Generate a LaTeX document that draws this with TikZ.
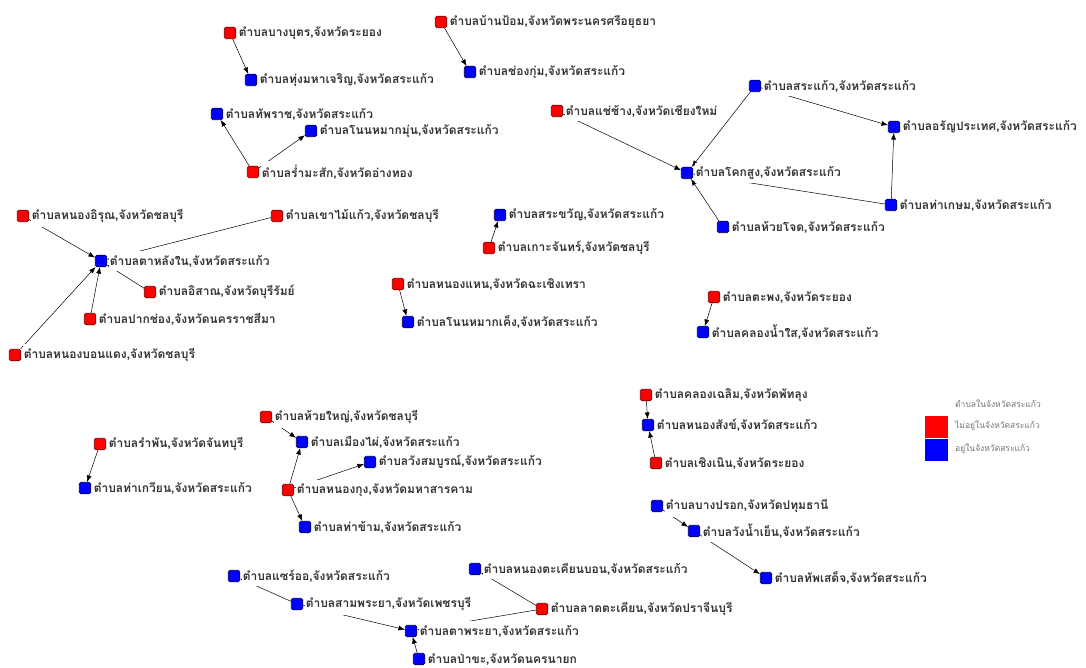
\documentclass[tikz,border=0pt]{standalone}
\usepackage{fontspec}
\newfontfamily\thaifont[Script=Thai]{Loma}
\usetikzlibrary{arrows.meta}
\tikzset{
  sq/.style={rounded corners=1.5pt, minimum size=11.5pt, inner sep=0pt, line width=0.6pt},
  rn/.style={sq, fill=red, draw=red!45!black},
  bn/.style={sq, fill=blue, draw=blue!35!black},
  lab/.style={anchor=west, font=\thaifont\bfseries\fontsize{12}{14}\selectfont, fill=white, inner xsep=1pt, inner ysep=4pt, text=black!80},
  legtxt/.style={anchor=west, font=\thaifont\fontsize{8.5}{10}\selectfont, text=black!55, inner sep=0pt},
  edge/.style={-{Latex[length=6.5pt,width=5pt]}, line width=0.5pt, black}
}
\newcommand\plab[2]{\node[lab] (#1-l) at ([xshift=1.5pt]#1.east) {#2};}
\begin{document}
\begin{tikzpicture}[x=1pt,y=-1pt]
\useasboundingbox (0,0) rectangle (1086,668);
\fill[white] (0,0) rectangle (1086,668);
% nodes
\node[rn] (n1) at (230,33) {};
\node[bn] (n2) at (251,80) {};
\node[rn] (n3) at (441,22) {};
\node[bn] (n4) at (470,72) {};
\node[bn] (n5) at (217,114) {};
\node[bn] (n6) at (311,131) {};
\node[rn] (n7) at (253,172) {};
\node[rn] (n8) at (557,111) {};
\node[bn] (n9) at (755,86) {};
\node[bn] (n10) at (894,127) {};
\node[bn] (n11) at (687,173) {};
\node[bn] (n12) at (891,205) {};
\node[bn] (n13) at (723,227) {};
\node[rn] (n14) at (23,216) {};
\node[rn] (n15) at (277,216) {};
\node[bn] (n16) at (101,261) {};
\node[rn] (n17) at (150,292) {};
\node[rn] (n18) at (90,319) {};
\node[rn] (n19) at (15,355) {};
\node[bn] (n20) at (500,215) {};
\node[rn] (n21) at (489,248) {};
\node[rn] (n22) at (398,284) {};
\node[bn] (n23) at (408,322) {};
\node[rn] (n24) at (714,297) {};
\node[bn] (n25) at (703,332) {};
\node[rn] (n26) at (266,417) {};
\node[bn] (n27) at (302,442) {};
\node[bn] (n28) at (370,462) {};
\node[rn] (n29) at (288,490) {};
\node[bn] (n30) at (305,527) {};
\node[rn] (n31) at (100,444) {};
\node[bn] (n32) at (85,488) {};
\node[rn] (n33) at (646,395) {};
\node[bn] (n34) at (648,425) {};
\node[rn] (n35) at (656,463) {};
\node[bn] (n36) at (657,506) {};
\node[bn] (n37) at (694,531) {};
\node[bn] (n38) at (766,578) {};
\node[bn] (n39) at (234,576) {};
\node[bn] (n40) at (297,604) {};
\node[bn] (n41) at (475,569) {};
\node[rn] (n42) at (542,609) {};
\node[bn] (n43) at (411,631) {};
\node[bn] (n44) at (419,659) {};
% edges
\draw[edge] (n1) -- (n2);
\draw[edge] (n3) -- (n4);
\draw[edge] (n7) -- (n5);
\draw[edge] (n7) -- (n6);
\draw[edge] (n8) -- (n11);
\draw[edge] (n9) -- (n11);
\draw[edge] (n9) -- (n10);
\draw[edge] (n12) -- (n10);
\draw[edge] (n12) -- (n11);
\draw[edge] (n13) -- (n11);
\draw[edge] (n14) -- (n16);
\draw[edge] (n15) -- (n16);
\draw[edge] (n17) -- (n16);
\draw[edge] (n18) -- (n16);
\draw[edge] (n19) -- (n16);
\draw[edge] (n21) -- (n20);
\draw[edge] (n22) -- (n23);
\draw[edge] (n24) -- (n25);
\draw[edge] (n26) -- (n27);
\draw[edge] (n29) -- (n27);
\draw[edge] (n29) -- (n28);
\draw[edge] (n29) -- (n30);
\draw[edge] (n31) -- (n32);
\draw[edge] (n33) -- (n34);
\draw[edge] (n35) -- (n34);
\draw[edge] (n36) -- (n37);
\draw[edge] (n37) -- (n38);
\draw[edge] (n40) -- (n39);
\draw[edge] (n40) -- (n43);
\draw[edge] (n42) -- (n41);
\draw[edge] (n42) -- (n43);
\draw[edge] (n44) -- (n43);
% labels
\plab{n1}{ตำบลบางบุตร,จังหวัดระยอง}
\plab{n2}{ตำบลทุ่งมหาเจริญ,จังหวัดสระแก้ว}
\plab{n3}{ตำบลบ้านป้อม,จังหวัดพระนครศรีอยุธยา}
\plab{n4}{ตำบลช่องกุ่ม,จังหวัดสระแก้ว}
\plab{n5}{ตำบลทัพราช,จังหวัดสระแก้ว}
\plab{n6}{ตำบลโนนหมากมุ่น,จังหวัดสระแก้ว}
\plab{n7}{ตำบลร่ำมะสัก,จังหวัดอ่างทอง}
\plab{n8}{ตำบลแช่ช้าง,จังหวัดเชียงใหม่}
\plab{n9}{ตำบลสระแก้ว,จังหวัดสระแก้ว}
\plab{n10}{ตำบลอรัญประเทศ,จังหวัดสระแก้ว}
\plab{n11}{ตำบลโคกสูง,จังหวัดสระแก้ว}
\plab{n12}{ตำบลท่าเกษม,จังหวัดสระแก้ว}
\plab{n13}{ตำบลห้วยโจด,จังหวัดสระแก้ว}
\plab{n14}{ตำบลหนองอิรุณ,จังหวัดชลบุรี}
\plab{n15}{ตำบลเขาไม้แก้ว,จังหวัดชลบุรี}
\plab{n16}{ตำบลตาหลังใน,จังหวัดสระแก้ว}
\plab{n17}{ตำบลอิสาณ,จังหวัดบุรีรัมย์}
\plab{n18}{ตำบลปากช่อง,จังหวัดนครราชสีมา}
\plab{n19}{ตำบลหนองบอนแดง,จังหวัดชลบุรี}
\plab{n20}{ตำบลสระขวัญ,จังหวัดสระแก้ว}
\plab{n21}{ตำบลเกาะจันทร์,จังหวัดชลบุรี}
\plab{n22}{ตำบลหนองแหน,จังหวัดฉะเชิงเทรา}
\plab{n23}{ตำบลโนนหมากเค็ง,จังหวัดสระแก้ว}
\plab{n24}{ตำบลตะพง,จังหวัดระยอง}
\plab{n25}{ตำบลคลองน้ำใส,จังหวัดสระแก้ว}
\plab{n26}{ตำบลห้วยใหญ่,จังหวัดชลบุรี}
\plab{n27}{ตำบลเมืองไผ่,จังหวัดสระแก้ว}
\plab{n28}{ตำบลวังสมบูรณ์,จังหวัดสระแก้ว}
\plab{n29}{ตำบลหนองกุง,จังหวัดมหาสารคาม}
\plab{n30}{ตำบลท่าข้าม,จังหวัดสระแก้ว}
\plab{n31}{ตำบลรำพัน,จังหวัดจันทบุรี}
\plab{n32}{ตำบลท่าเกวียน,จังหวัดสระแก้ว}
\plab{n33}{ตำบลคลองเฉลิม,จังหวัดพัทลุง}
\plab{n34}{ตำบลหนองสังข์,จังหวัดสระแก้ว}
\plab{n35}{ตำบลเชิงเนิน,จังหวัดระยอง}
\plab{n36}{ตำบลบางปรอก,จังหวัดปทุมธานี}
\plab{n37}{ตำบลวังน้ำเย็น,จังหวัดสระแก้ว}
\plab{n38}{ตำบลทัพเสด็จ,จังหวัดสระแก้ว}
\plab{n39}{ตำบลแซร์ออ,จังหวัดสระแก้ว}
\plab{n40}{ตำบลสามพระยา,จังหวัดเพชรบุรี}
\plab{n41}{ตำบลหนองตะเคียนบอน,จังหวัดสระแก้ว}
\plab{n42}{ตำบลลาดตะเคียน,จังหวัดปราจีนบุรี}
\plab{n43}{ตำบลตาพระยา,จังหวัดสระแก้ว}
\plab{n44}{ตำบลป่าขะ,จังหวัดนครนายก}
% legend
\node[fill=red, minimum width=23pt, minimum height=22pt, inner sep=0pt, anchor=north west] (legr) at (925,416) {};
\node[fill=blue, minimum width=23pt, minimum height=22pt, inner sep=0pt, anchor=north] (legb) at (legr.south) {};
\node[legtxt] (legt) at (955,404) {ตำบลในจังหวัดสระแก้ว};
\node[legtxt] (legt1) at (955,426) {ไม่อยู่ในจังหวัดสระแก้ว};
\node[legtxt] (legt2) at (955,449) {อยู่ในจังหวัดสระแก้ว};
\end{tikzpicture}
\end{document}
